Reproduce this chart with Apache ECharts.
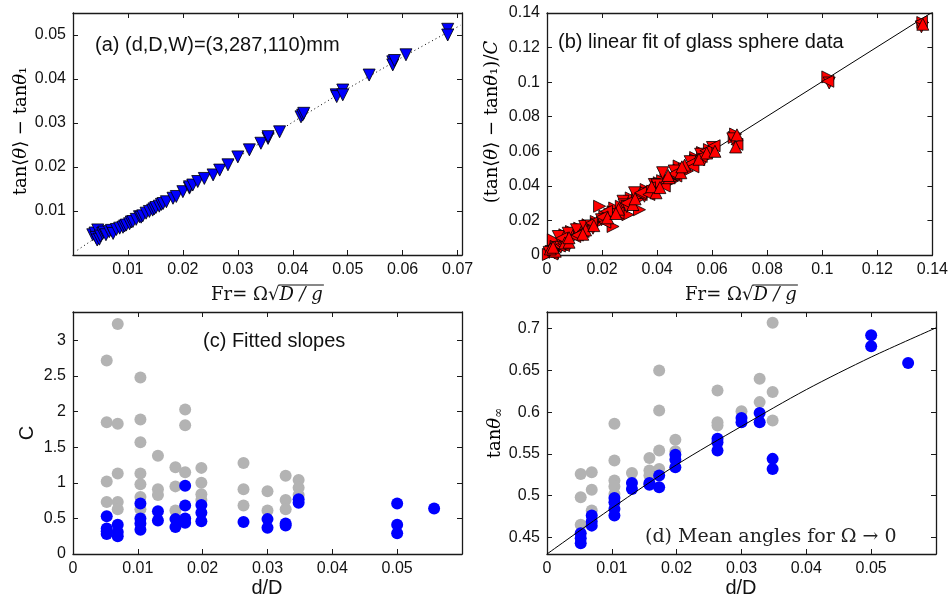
<!DOCTYPE html>
<html>
<head>
<meta charset="utf-8">
<script src="https://cdn.jsdelivr.net/npm/echarts@6/dist/echarts.min.js"></script>
<style>
  html, body { margin: 0; padding: 0; background: #fff; }
  #chart { width: 951px; height: 597px; }
</style>
</head>
<body>
<div id="chart"></div>
<script>
// (a) glass spheres, d=3mm: Fr vs tan<θ> - tanθ1
const aPts = [
  [0.0036,0.0046],[0.0040,0.0050],[0.0042,0.0040],[0.0044,0.0034],[0.0045,0.0057],[0.0048,0.0036],
  [0.0050,0.0043],[0.0054,0.0049],[0.0056,0.0052],[0.0060,0.0046],[0.0066,0.0053],[0.0070,0.0056],
  [0.0073,0.0049],[0.0079,0.0058],[0.0085,0.0061],[0.0091,0.0063],[0.0094,0.0066],[0.0097,0.0068],
  [0.0103,0.0071],[0.0106,0.0075],[0.0109,0.0076],[0.0115,0.0081],[0.0121,0.0087],[0.0124,0.0086],
  [0.0127,0.0089],[0.0133,0.0095],[0.0139,0.0099],[0.0145,0.0102],[0.0148,0.0105],[0.0151,0.0108],
  [0.0157,0.0111],[0.0161,0.0115],[0.0164,0.0117],[0.0170,0.0121],[0.0182,0.0129],[0.0188,0.0133],
  [0.0200,0.0144],[0.0212,0.0152],[0.0212,0.0155],[0.0218,0.0159],[0.0227,0.0167],[0.0239,0.0174],
  [0.0255,0.0182],[0.0267,0.0193],[0.0282,0.0205],[0.0300,0.0223],[0.0321,0.0239],[0.0342,0.0254],
  [0.0355,0.0265],[0.0355,0.0269],[0.0376,0.0280],[0.0415,0.0314],[0.0418,0.0318],[0.0420,0.0322],
  [0.0479,0.0364],[0.0480,0.0360],[0.0491,0.0375],[0.0491,0.0364],[0.0539,0.0409],[0.0582,0.0439],
  [0.0582,0.0432],[0.0585,0.0442],[0.0606,0.0455],[0.0682,0.0513],[0.0682,0.0500]
];
const aFit = [
  [0.0008,0.0011],[0.004,0.0038],[0.01,0.0075],[0.02,0.0145],[0.03,0.0222],
  [0.04,0.0302],[0.05,0.0378],[0.06,0.0450],[0.0705,0.0522]
];

// (b) all glass sphere data scaled by C, four marker orientations
const bRight = [
  [0.0010,0.0008],[0.0025,0.0030],[0.0040,0.0033],[0.0055,0.0062],[0.0070,0.0064],[0.0023,0.0088],
  [0.0065,0.0117],[0.0089,0.0136],[0.0119,0.0155],[0.0149,0.0175],[0.0179,0.0194],[0.0191,0.0282],
  [0.0210,0.0224],[0.0240,0.0165],[0.0246,0.0272],[0.0270,0.0282],[0.0294,0.0233],[0.0306,0.0330],
  [0.0330,0.0321],[0.0336,0.0262],[0.0360,0.0379],[0.0384,0.0369],[0.0408,0.0418],[0.0432,0.0437],
  [0.0456,0.0428],[0.0480,0.0515],[0.0510,0.0486],[0.0540,0.0564],[0.0565,0.0593],[0.0589,0.0573],
  [0.0680,0.0680],[0.0685,0.0700],[0.1020,0.1030],[0.1365,0.1345],[0.012,0.013],[0.018,0.018],
  [0.024,0.025],[0.030,0.031],[0.036,0.036],[0.042,0.043],[0.048,0.049],[0.054,0.055],
  [0.059,0.061],[0.045,0.043],[0.033,0.034],[0.009,0.0095],[0.0005,0.0003],[0.0033,0.0050]
];
const bDown = [
  [0.0015,0.0020],[0.0035,0.0042],[0.0050,0.0045],[0.0041,0.0107],[0.0077,0.0126],[0.0107,0.0146],
  [0.0137,0.0165],[0.0167,0.0155],[0.0198,0.0204],[0.0228,0.0233],[0.0276,0.0311],[0.0318,0.0360],
  [0.0354,0.0340],[0.0390,0.0408],[0.0420,0.0476],[0.0462,0.0486],[0.0498,0.0496],[0.0528,0.0534],
  [0.0558,0.0583],[0.0601,0.0622],[0.0675,0.0672],[0.1025,0.0995],[0.1360,0.1320],[0.016,0.0168],
  [0.028,0.029],[0.040,0.0405],[0.052,0.054],[0.057,0.055],[0.029,0.028],[0.007,0.006],
  [0.0008,0.0015],[0.0028,0.0012]
];
const bLeft = [
  [0.0020,0.0012],[0.0045,0.0052],[0.0060,0.0055],[0.0053,0.0097],[0.0101,0.0107],[0.0131,0.0136],
  [0.0161,0.0185],[0.0216,0.0253],[0.0258,0.0243],[0.0288,0.0301],[0.0342,0.0350],[0.0372,0.0389],
  [0.0426,0.0399],[0.0468,0.0457],[0.0516,0.0525],[0.0577,0.0603],[0.0607,0.0632],[0.0690,0.0640],
  [0.1020,0.1005],[0.1360,0.1350],[0.020,0.022],[0.034,0.036],[0.046,0.047],[0.056,0.057],
  [0.053,0.051],[0.037,0.035],[0.021,0.019],[0.011,0.0115],[0.0018,0.0006]
];
const bUp = [
  [0.0030,0.0022],[0.0065,0.0070],[0.0080,0.0074],[0.0012,0.0035],[0.0312,0.0292],[0.0396,0.0360],
  [0.0444,0.0447],[0.0486,0.0476],[0.0552,0.0554],[0.0685,0.0625],[0.0690,0.0695],[0.1365,0.1335],
  [0.014,0.0145],[0.022,0.0215],[0.026,0.0265],[0.032,0.0325],[0.038,0.0395],[0.044,0.046],
  [0.050,0.052],[0.058,0.059],[0.061,0.060],[0.049,0.051],[0.041,0.039],[0.025,0.024],
  [0.017,0.017],[0.013,0.012],[0.008,0.010],[0.0022,0.0045]
];
const bFit = [[0,0],[0.14,0.1405]];

// (c) fitted slopes C vs d/D
const cGray = [
  [0.0052,2.72],[0.0052,1.85],[0.0052,1.02],[0.0052,0.73],
  [0.0069,3.23],[0.0069,1.83],[0.0069,1.13],[0.0069,0.73],[0.0069,0.63],
  [0.0104,2.48],[0.0104,1.89],[0.0104,1.57],[0.0104,1.13],[0.0104,0.98],[0.0104,0.80],[0.0104,0.63],
  [0.0131,1.38],[0.0131,0.91],[0.0131,0.83],
  [0.0158,1.22],[0.0158,0.95],[0.0158,0.61],
  [0.0173,2.03],[0.0173,1.81],[0.0173,1.15],
  [0.0198,1.21],[0.0198,1.00],[0.0198,0.84],[0.0198,0.76],
  [0.0263,1.28],[0.0263,0.91],[0.0263,0.68],
  [0.0300,0.88],[0.0300,0.61],
  [0.0328,1.10],[0.0328,0.76],[0.0328,0.63],
  [0.0348,1.04],[0.0348,0.93],[0.0348,0.83]
];
const cBlue = [
  [0.0052,0.53],[0.0052,0.36],[0.0052,0.32],[0.0052,0.28],
  [0.0069,0.41],[0.0069,0.31],[0.0069,0.25],
  [0.0104,0.71],[0.0104,0.50],[0.0104,0.43],[0.0104,0.34],
  [0.0131,0.60],[0.0131,0.47],
  [0.0158,0.49],[0.0158,0.38],
  [0.0173,0.96],[0.0173,0.68],[0.0173,0.50],[0.0173,0.44],
  [0.0198,0.69],[0.0198,0.58],[0.0198,0.46],
  [0.0263,0.45],
  [0.0300,0.49],[0.0300,0.37],
  [0.0328,0.43],[0.0328,0.40],
  [0.0348,0.77],[0.0348,0.72],
  [0.0500,0.71],[0.0500,0.41],[0.0500,0.29],
  [0.0557,0.64]
];

// (d) mean angles tanθ∞ vs d/D
const dGray = [
  [0.0052,0.526],[0.0052,0.498],[0.0052,0.465],
  [0.0069,0.528],[0.0069,0.507],[0.0069,0.482],
  [0.0104,0.586],[0.0104,0.542],[0.0104,0.518],[0.0104,0.511],[0.0104,0.502],
  [0.0131,0.527],
  [0.0158,0.545],[0.0158,0.530],[0.0158,0.524],
  [0.0173,0.650],[0.0173,0.602],[0.0173,0.554],[0.0173,0.532],
  [0.0198,0.567],[0.0198,0.553],
  [0.0263,0.626],[0.0263,0.588],[0.0263,0.584],
  [0.0300,0.601],
  [0.0328,0.640],[0.0328,0.612],
  [0.0348,0.707],[0.0348,0.624],[0.0348,0.590]
];
const dBlue = [
  [0.0052,0.455],[0.0052,0.449],[0.0052,0.443],
  [0.0069,0.476],[0.0069,0.469],[0.0069,0.464],
  [0.0104,0.497],[0.0104,0.492],[0.0104,0.484],[0.0104,0.476],
  [0.0131,0.515],[0.0131,0.508],
  [0.0158,0.515],[0.0158,0.513],
  [0.0173,0.524],[0.0173,0.510],
  [0.0198,0.549],[0.0198,0.543],[0.0198,0.534],
  [0.0263,0.568],[0.0263,0.564],[0.0263,0.554],
  [0.0300,0.593],[0.0300,0.588],
  [0.0328,0.599],[0.0328,0.588],
  [0.0348,0.544],[0.0348,0.532],
  [0.0500,0.692],[0.0500,0.679],
  [0.0557,0.659]
];
const dFit = [[0,0.43],[0.01,0.485],[0.02,0.537],[0.03,0.583],[0.04,0.627],[0.05,0.666],[0.06,0.701]];

const sans = '"Liberation Sans", Arial, sans-serif';
const serif = '"DejaVu Serif", "Liberation Serif", serif';
const ink = '#1a1a1a';

const grids = [
  { left: 73, top: 13, width: 389, height: 242 },
  { left: 547, top: 13, width: 389, height: 242 },
  { left: 73, top: 312, width: 389, height: 242 },
  { left: 547, top: 312, width: 389, height: 242 }
];

// each panel gets a labelled axis and a mirrored one (MATLAB box with inside ticks)
function axisPair(gi, pos, mirror, range, label) {
  const base = {
    type: 'value', gridIndex: gi, scale: true,
    axisLine: { show: true, onZero: false, lineStyle: { color: ink, width: 1.3 } },
    axisTick: { show: true, inside: true, length: 5, lineStyle: { color: ink, width: 1 } },
    splitLine: { show: false }
  };
  Object.assign(base, range);
  const main = Object.assign({}, base, {
    position: pos,
    axisLabel: Object.assign({ fontFamily: sans, fontSize: 16, color: '#111', margin: 7 }, label)
  });
  const other = Object.assign({}, base, { position: mirror, axisLabel: { show: false } });
  return [main, other];
}

const xAxes = [].concat(
  axisPair(0, 'bottom', 'top', { min: 0, max: 0.0708, interval: 0.01 }, { showMinLabel: false, showMaxLabel: false }),
  axisPair(1, 'bottom', 'top', { min: 0, max: 0.14, interval: 0.02 }, {}),
  axisPair(2, 'bottom', 'top', { min: 0, max: 0.06, interval: 0.01 }, { showMaxLabel: false }),
  axisPair(3, 'bottom', 'top', { min: 0, max: 0.06, interval: 0.01 }, { showMaxLabel: false })
);
const yAxes = [].concat(
  axisPair(0, 'left', 'right', { min: 0, max: 0.055, interval: 0.01 }, { showMinLabel: false, showMaxLabel: false }),
  axisPair(1, 'left', 'right', { min: 0, max: 0.14, interval: 0.02 }, {}),
  axisPair(2, 'left', 'right', { min: 0, max: 3.4, interval: 0.5 }, { showMaxLabel: false }),
  axisPair(3, 'left', 'right', { min: 0.43, max: 0.72, splitNumber: 6 }, { showMinLabel: false, showMaxLabel: false })
);

function scatter(panel, data, opts) {
  return Object.assign({
    type: 'scatter', xAxisIndex: panel * 2, yAxisIndex: panel * 2, data: data,
    symbol: 'circle', symbolSize: 12, z: 3
  }, opts);
}
function line(panel, data, opts) {
  return Object.assign({
    type: 'line', xAxisIndex: panel * 2, yAxisIndex: panel * 2, data: data,
    showSymbol: false, symbol: 'none', z: 2
  }, opts);
}

const redTri = { color: '#ff0000', borderColor: '#000', borderWidth: 0.8, opacity: 1 };

const series = [
  line(0, aFit, { lineStyle: { color: '#000', width: 1, type: [1, 3] } }),
  scatter(0, aPts, { symbol: 'triangle', symbolRotate: 180, symbolSize: 12,
    itemStyle: { color: '#0000ff', borderColor: '#000', borderWidth: 0.8, opacity: 1 } }),

  line(1, bFit, { lineStyle: { color: '#000', width: 1 } }),
  scatter(1, bRight, { symbol: 'triangle', symbolRotate: -90, itemStyle: redTri }),
  scatter(1, bDown, { symbol: 'triangle', symbolRotate: 180, itemStyle: redTri }),
  scatter(1, bLeft, { symbol: 'triangle', symbolRotate: 90, itemStyle: redTri }),
  scatter(1, bUp, { symbol: 'triangle', symbolRotate: 0, itemStyle: redTri }),

  scatter(2, cGray, { itemStyle: { color: '#b3b3b3', opacity: 1 } }),
  scatter(2, cBlue, { itemStyle: { color: '#0000ff', opacity: 1 } }),

  scatter(3, dGray, { itemStyle: { color: '#b3b3b3', opacity: 1 } }),
  scatter(3, dBlue, { itemStyle: { color: '#0000ff', opacity: 1 } }),
  line(3, dFit, { smooth: 0.3, lineStyle: { color: '#000', width: 1 }, z: 4 })
];

// text measuring for the sqrt overline in the Froude number label
const mctx = document.createElement('canvas').getContext('2d');
function textWidth(str, font) { mctx.font = font; return mctx.measureText(str).width; }

function frLabel(cx, cy) {
  const f1 = '18px ' + serif, f2 = 'italic 18px ' + serif;
  const t1 = 'Fr= Ω√', t2 = 'D / g';
  const w1 = textWidth(t1, f1), w2 = textWidth(t2, f2);
  const x0 = cx - (w1 + w2) / 2;
  return [
    { type: 'text', x: x0, y: cy, style: { text: t1, font: f1, fill: '#111', verticalAlign: 'middle' } },
    { type: 'text', x: x0 + w1, y: cy, style: { text: t2, font: f2, fill: '#111', verticalAlign: 'middle' } },
    { type: 'line', shape: { x1: x0 + w1 - 1, y1: cy - 10, x2: x0 + w1 + w2 + 1, y2: cy - 10 },
      style: { stroke: '#111', lineWidth: 1 } }
  ];
}

const mathRich = {
  u: { fontFamily: serif, fontSize: 18, color: '#111' },
  i: { fontFamily: serif, fontSize: 18, fontStyle: 'italic', color: '#111' },
  s: { fontFamily: serif, fontSize: 12, color: '#111', padding: [8, 0, 0, 0] }
};

function vText(x, y, text) {
  return { type: 'text', x: x, y: y, rotation: Math.PI / 2,
    style: { text: text, rich: mathRich, align: 'center', verticalAlign: 'middle' } };
}

const graphic = [].concat(
  [
    { type: 'text', x: 95, y: 45, style: { text: '(a) (d,D,W)=(3,287,110)mm', font: '20px ' + sans, fill: '#111', verticalAlign: 'middle' } },
    { type: 'text', x: 558, y: 42, style: { text: '(b) linear fit of glass sphere data', font: '20px ' + sans, fill: '#111', verticalAlign: 'middle' } },
    { type: 'text', x: 203, y: 341, style: { text: '(c) Fitted slopes', font: '20px ' + sans, fill: '#111', verticalAlign: 'middle' } },
    { type: 'text', x: 645, y: 537, style: { text: '(d) Mean angles for Ω → 0', font: '19px ' + serif, fill: '#222', verticalAlign: 'middle' } },

    vText(21, 131, '{u|tan⟨}{i|θ}{u|⟩ − tan}{i|θ}{u|₁}'),
    vText(492, 122, '{u|(tan⟨}{i|θ}{u|⟩ − tan}{i|θ}{u|₁)/}{i|C}'),
    vText(495, 433, '{u|tan}{i|θ}{s|∞}'),
    { type: 'text', x: 27, y: 433, rotation: Math.PI / 2,
      style: { text: 'C', font: '20px ' + sans, fill: '#111', align: 'center', verticalAlign: 'middle' } },
    { type: 'text', x: 267, y: 588, style: { text: 'd/D', font: '20px ' + sans, fill: '#111', align: 'center', verticalAlign: 'middle' } },
    { type: 'text', x: 741, y: 588, style: { text: 'd/D', font: '20px ' + sans, fill: '#111', align: 'center', verticalAlign: 'middle' } }
  ],
  frLabel(267, 295),
  frLabel(741, 295)
);

const chart = echarts.init(document.getElementById('chart'), null, { renderer: 'canvas' });
chart.setOption({
  animation: false,
  backgroundColor: '#fff',
  grid: grids,
  xAxis: xAxes,
  yAxis: yAxes,
  series: series,
  graphic: graphic
});
</script>
</body>
</html>
